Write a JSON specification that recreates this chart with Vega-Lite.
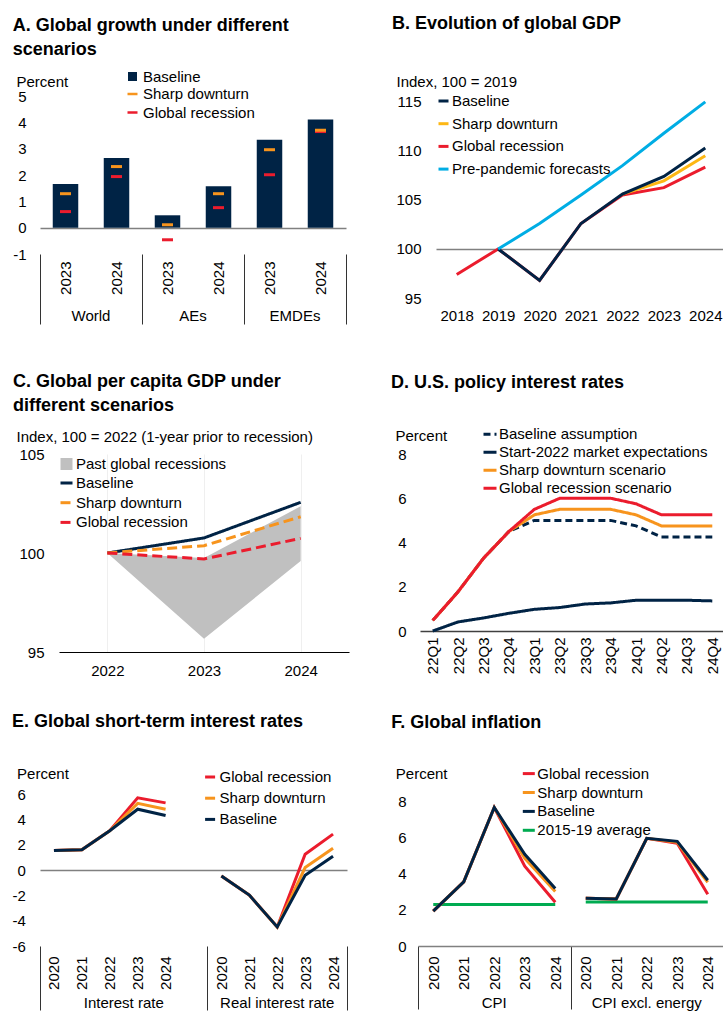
{
"$schema": "https://vega.github.io/schema/vega-lite/v6.json",
"padding": {"left": 11, "top": 15, "right": 0, "bottom": 0},
"background": "white",
"config": {
 "font": "Liberation Sans",
 "view": {"stroke": null},
 "axis": {"labelFont": "Liberation Sans", "labelFontSize": 15, "labelColor": "#000", "titleFont": "Liberation Sans", "titleFontSize": 15, "titleFontWeight": "normal", "titleColor": "#000", "grid": false, "ticks": false, "domain": false, "labelOverlap": false},
 "legend": {"labelFont": "Liberation Sans", "labelFontSize": 15, "labelColor": "#000", "padding": 0, "labelLimit": 400},
 "title": {"anchor": "start", "frame": "bounds", "font": "Liberation Sans", "fontSize": 18, "fontWeight": "bold", "lineHeight": 24, "color": "#000"},
 "text": {"font": "Liberation Sans", "fontSize": 15, "color": "#000"}
},
"datasets": {
 "A": [
  {"k": "W2023", "base": 1.66, "sharp": 1.29, "rec": 0.61},
  {"k": "W2024", "base": 2.65, "sharp": 2.32, "rec": 1.94},
  {"k": "A2023", "base": 0.47, "sharp": 0.11, "rec": -0.46},
  {"k": "A2024", "base": 1.57, "sharp": 1.29, "rec": 0.76},
  {"k": "E2023", "base": 3.34, "sharp": 2.96, "rec": 2.01},
  {"k": "E2024", "base": 4.11, "sharp": 3.70, "rec": 3.65}
 ],
 "Agroups": [{"k": "W2023", "g": "World"}, {"k": "A2023", "g": "AEs"}, {"k": "E2023", "g": "EMDEs"}],
 "B": [
  {"yr": "2018", "s": "Global recession", "v": 97.4},
  {"yr": "2019", "s": "Global recession", "v": 100},
  {"yr": "2020", "s": "Global recession", "v": 96.8},
  {"yr": "2021", "s": "Global recession", "v": 102.6},
  {"yr": "2022", "s": "Global recession", "v": 105.5},
  {"yr": "2023", "s": "Global recession", "v": 106.25},
  {"yr": "2024", "s": "Global recession", "v": 108.35},
  {"yr": "2022", "s": "Sharp downturn", "v": 105.6},
  {"yr": "2023", "s": "Sharp downturn", "v": 106.95},
  {"yr": "2024", "s": "Sharp downturn", "v": 109.5},
  {"yr": "2019", "s": "Baseline", "v": 100},
  {"yr": "2020", "s": "Baseline", "v": 96.8},
  {"yr": "2021", "s": "Baseline", "v": 102.6},
  {"yr": "2022", "s": "Baseline", "v": 105.6},
  {"yr": "2023", "s": "Baseline", "v": 107.4},
  {"yr": "2024", "s": "Baseline", "v": 110.3},
  {"yr": "2019", "s": "Pre-pandemic forecasts", "v": 100},
  {"yr": "2020", "s": "Pre-pandemic forecasts", "v": 102.6},
  {"yr": "2021", "s": "Pre-pandemic forecasts", "v": 105.5},
  {"yr": "2022", "s": "Pre-pandemic forecasts", "v": 108.5},
  {"yr": "2023", "s": "Pre-pandemic forecasts", "v": 111.8},
  {"yr": "2024", "s": "Pre-pandemic forecasts", "v": 115.0}
 ],
 "Carea": [
  {"yr": "2022", "lo": 100, "hi": 100, "s": "Past global recessions"},
  {"yr": "2023", "lo": 95.67, "hi": 99.75, "s": "Past global recessions"},
  {"yr": "2024", "lo": 99.6, "hi": 102.36, "s": "Past global recessions"}
 ],
 "C": [
  {"yr": "2022", "s": "Baseline", "v": 100},
  {"yr": "2023", "s": "Baseline", "v": 100.76},
  {"yr": "2024", "s": "Baseline", "v": 102.56},
  {"yr": "2022", "s": "Sharp downturn", "v": 100},
  {"yr": "2023", "s": "Sharp downturn", "v": 100.37},
  {"yr": "2024", "s": "Sharp downturn", "v": 101.83},
  {"yr": "2022", "s": "Global recession", "v": 100},
  {"yr": "2023", "s": "Global recession", "v": 99.7},
  {"yr": "2024", "s": "Global recession", "v": 100.74}
 ],
 "D": [
  {"q": "22Q1", "s": "Global recession scenario", "v": 0.48},
  {"q": "22Q2", "s": "Global recession scenario", "v": 1.78},
  {"q": "22Q3", "s": "Global recession scenario", "v": 3.29},
  {"q": "22Q4", "s": "Global recession scenario", "v": 4.5},
  {"q": "23Q1", "s": "Global recession scenario", "v": 5.5},
  {"q": "23Q2", "s": "Global recession scenario", "v": 6.0},
  {"q": "23Q3", "s": "Global recession scenario", "v": 6.0},
  {"q": "23Q4", "s": "Global recession scenario", "v": 6.0},
  {"q": "24Q1", "s": "Global recession scenario", "v": 5.75},
  {"q": "24Q2", "s": "Global recession scenario", "v": 5.25},
  {"q": "24Q3", "s": "Global recession scenario", "v": 5.25},
  {"q": "24Q4", "s": "Global recession scenario", "v": 5.25},
  {"q": "22Q1", "s": "Sharp downturn scenario", "v": 0.48},
  {"q": "22Q2", "s": "Sharp downturn scenario", "v": 1.78},
  {"q": "22Q3", "s": "Sharp downturn scenario", "v": 3.29},
  {"q": "22Q4", "s": "Sharp downturn scenario", "v": 4.5},
  {"q": "23Q1", "s": "Sharp downturn scenario", "v": 5.25},
  {"q": "23Q2", "s": "Sharp downturn scenario", "v": 5.5},
  {"q": "23Q3", "s": "Sharp downturn scenario", "v": 5.5},
  {"q": "23Q4", "s": "Sharp downturn scenario", "v": 5.5},
  {"q": "24Q1", "s": "Sharp downturn scenario", "v": 5.25},
  {"q": "24Q2", "s": "Sharp downturn scenario", "v": 4.75},
  {"q": "24Q3", "s": "Sharp downturn scenario", "v": 4.75},
  {"q": "24Q4", "s": "Sharp downturn scenario", "v": 4.75},
  {"q": "22Q1", "s": "Baseline assumption", "v": 0.48},
  {"q": "22Q2", "s": "Baseline assumption", "v": 1.78},
  {"q": "22Q3", "s": "Baseline assumption", "v": 3.29},
  {"q": "22Q4", "s": "Baseline assumption", "v": 4.5},
  {"q": "23Q1", "s": "Baseline assumption", "v": 5.0},
  {"q": "23Q2", "s": "Baseline assumption", "v": 5.0},
  {"q": "23Q3", "s": "Baseline assumption", "v": 5.0},
  {"q": "23Q4", "s": "Baseline assumption", "v": 5.0},
  {"q": "24Q1", "s": "Baseline assumption", "v": 4.75},
  {"q": "24Q2", "s": "Baseline assumption", "v": 4.25},
  {"q": "24Q3", "s": "Baseline assumption", "v": 4.25},
  {"q": "24Q4", "s": "Baseline assumption", "v": 4.25},
  {"q": "22Q1", "s": "Start-2022 market expectations", "v": 0.0},
  {"q": "22Q2", "s": "Start-2022 market expectations", "v": 0.41},
  {"q": "22Q3", "s": "Start-2022 market expectations", "v": 0.59},
  {"q": "22Q4", "s": "Start-2022 market expectations", "v": 0.8},
  {"q": "23Q1", "s": "Start-2022 market expectations", "v": 0.98},
  {"q": "23Q2", "s": "Start-2022 market expectations", "v": 1.06},
  {"q": "23Q3", "s": "Start-2022 market expectations", "v": 1.22},
  {"q": "23Q4", "s": "Start-2022 market expectations", "v": 1.27},
  {"q": "24Q1", "s": "Start-2022 market expectations", "v": 1.39},
  {"q": "24Q2", "s": "Start-2022 market expectations", "v": 1.39},
  {"q": "24Q3", "s": "Start-2022 market expectations", "v": 1.39},
  {"q": "24Q4", "s": "Start-2022 market expectations", "v": 1.36}
 ],
 "E": [
  {"k": "I2020", "g": "I", "s": "Global recession", "v": 1.53},
  {"k": "I2021", "g": "I", "s": "Global recession", "v": 1.59},
  {"k": "I2022", "g": "I", "s": "Global recession", "v": 3.1},
  {"k": "I2023", "g": "I", "s": "Global recession", "v": 5.7},
  {"k": "I2024", "g": "I", "s": "Global recession", "v": 5.3},
  {"k": "R2020", "g": "R", "s": "Global recession", "v": -0.48},
  {"k": "R2021", "g": "R", "s": "Global recession", "v": -1.98},
  {"k": "R2022", "g": "R", "s": "Global recession", "v": -4.5},
  {"k": "R2023", "g": "R", "s": "Global recession", "v": 1.24},
  {"k": "R2024", "g": "R", "s": "Global recession", "v": 2.83},
  {"k": "I2020", "g": "I", "s": "Sharp downturn", "v": 1.53},
  {"k": "I2021", "g": "I", "s": "Sharp downturn", "v": 1.59},
  {"k": "I2022", "g": "I", "s": "Sharp downturn", "v": 3.1},
  {"k": "I2023", "g": "I", "s": "Sharp downturn", "v": 5.26},
  {"k": "I2024", "g": "I", "s": "Sharp downturn", "v": 4.8},
  {"k": "R2020", "g": "R", "s": "Sharp downturn", "v": -0.48},
  {"k": "R2021", "g": "R", "s": "Sharp downturn", "v": -1.98},
  {"k": "R2022", "g": "R", "s": "Sharp downturn", "v": -4.5},
  {"k": "R2023", "g": "R", "s": "Sharp downturn", "v": 0.19},
  {"k": "R2024", "g": "R", "s": "Sharp downturn", "v": 1.72},
  {"k": "I2020", "g": "I", "s": "Baseline", "v": 1.53},
  {"k": "I2021", "g": "I", "s": "Baseline", "v": 1.59},
  {"k": "I2022", "g": "I", "s": "Baseline", "v": 3.1},
  {"k": "I2023", "g": "I", "s": "Baseline", "v": 4.8},
  {"k": "I2024", "g": "I", "s": "Baseline", "v": 4.3},
  {"k": "R2020", "g": "R", "s": "Baseline", "v": -0.48},
  {"k": "R2021", "g": "R", "s": "Baseline", "v": -1.98},
  {"k": "R2022", "g": "R", "s": "Baseline", "v": -4.5},
  {"k": "R2023", "g": "R", "s": "Baseline", "v": -0.42},
  {"k": "R2024", "g": "R", "s": "Baseline", "v": 1.08}
 ],
 "Egroups1": [{"k": "I2022", "g": "Interest rate"}],
 "Egroups2": [{"k": "R2022", "g": "Real interest rate"}],
 "F": [
  {"k": "C2020", "g": "C", "s": "2015-19 average", "v": 2.31},
  {"k": "C2021", "g": "C", "s": "2015-19 average", "v": 2.31},
  {"k": "C2022", "g": "C", "s": "2015-19 average", "v": 2.31},
  {"k": "C2023", "g": "C", "s": "2015-19 average", "v": 2.31},
  {"k": "C2024", "g": "C", "s": "2015-19 average", "v": 2.31},
  {"k": "X2020", "g": "X", "s": "2015-19 average", "v": 2.44},
  {"k": "X2021", "g": "X", "s": "2015-19 average", "v": 2.44},
  {"k": "X2022", "g": "X", "s": "2015-19 average", "v": 2.44},
  {"k": "X2023", "g": "X", "s": "2015-19 average", "v": 2.44},
  {"k": "X2024", "g": "X", "s": "2015-19 average", "v": 2.44},
  {"k": "C2020", "g": "C", "s": "Global recession", "v": 1.94},
  {"k": "C2021", "g": "C", "s": "Global recession", "v": 3.56},
  {"k": "C2022", "g": "C", "s": "Global recession", "v": 7.69},
  {"k": "C2023", "g": "C", "s": "Global recession", "v": 4.43},
  {"k": "C2024", "g": "C", "s": "Global recession", "v": 2.43},
  {"k": "X2020", "g": "X", "s": "Global recession", "v": 2.65},
  {"k": "X2021", "g": "X", "s": "Global recession", "v": 2.61},
  {"k": "X2022", "g": "X", "s": "Global recession", "v": 5.98},
  {"k": "X2023", "g": "X", "s": "Global recession", "v": 5.7},
  {"k": "X2024", "g": "X", "s": "Global recession", "v": 2.87},
  {"k": "C2020", "g": "C", "s": "Sharp downturn", "v": 1.94},
  {"k": "C2021", "g": "C", "s": "Sharp downturn", "v": 3.56},
  {"k": "C2022", "g": "C", "s": "Sharp downturn", "v": 7.69},
  {"k": "C2023", "g": "C", "s": "Sharp downturn", "v": 4.87},
  {"k": "C2024", "g": "C", "s": "Sharp downturn", "v": 3.02},
  {"k": "X2020", "g": "X", "s": "Sharp downturn", "v": 2.65},
  {"k": "X2021", "g": "X", "s": "Sharp downturn", "v": 2.61},
  {"k": "X2022", "g": "X", "s": "Sharp downturn", "v": 5.98},
  {"k": "X2023", "g": "X", "s": "Sharp downturn", "v": 5.76},
  {"k": "X2024", "g": "X", "s": "Sharp downturn", "v": 3.54},
  {"k": "C2020", "g": "C", "s": "Baseline", "v": 1.94},
  {"k": "C2021", "g": "C", "s": "Baseline", "v": 3.56},
  {"k": "C2022", "g": "C", "s": "Baseline", "v": 7.69},
  {"k": "C2023", "g": "C", "s": "Baseline", "v": 5.09},
  {"k": "C2024", "g": "C", "s": "Baseline", "v": 3.19},
  {"k": "X2020", "g": "X", "s": "Baseline", "v": 2.65},
  {"k": "X2021", "g": "X", "s": "Baseline", "v": 2.61},
  {"k": "X2022", "g": "X", "s": "Baseline", "v": 5.98},
  {"k": "X2023", "g": "X", "s": "Baseline", "v": 5.81},
  {"k": "X2024", "g": "X", "s": "Baseline", "v": 3.65}
 ],
 "Fgroups": [{"k": "C2022", "g": "CPI"}, {"k": "X2022", "g": "CPI excl. energy"}]
},
"vconcat": [
{"concat": [
 {
  "title": {"text": ["A. Global growth under different", "scenarios"], "offset": 10},
  "width": 306, "height": 158,
  "data": {"name": "A"},
  "layer": [
   {"mark": {"type": "bar", "width": {"band": 0.5}, "color": "#002345"},
    "encoding": {
     "x": {"field": "k", "type": "nominal", "sort": null, "scale": {"domain": ["W2023","W2024","A2023","A2024","E2023","E2024"], "paddingInner": 0, "paddingOuter": 0},
           "axis": {"title": null, "labelExpr": "datum.value ? substring(datum.value, 1) : ''", "labelAngle": 270, "labelAlign": "right", "labelBaseline": "middle", "labelOverlap": false, "ticks": true, "tickBand": "extent", "tickSize": 70, "tickColor": "#333333", "tickWidth": 1, "tickOpacity": {"condition": {"test": "datum.extra || datum.value === 'W2024' || datum.value === 'A2024' || datum.value === 'E2024'", "value": 1}, "value": 0}, "labelPadding": -63}},
     "y": {"field": "base", "type": "quantitative", "scale": {"domain": [-1, 5], "nice": false, "zero": false},
           "axis": {"values": [-1,0,1,2,3,4,5], "labelOverlap": false, "title": "Percent", "titleAngle": 0, "titleAlign": "left", "titleBaseline": "middle", "titleX": -24, "titleY": -15, "labelPadding": 14, "labelExpr": "datum.value < 0 ? '-' + (-datum.value) : datum.label", "grid": true, "gridColor": "#808080", "gridWidth": 1.5, "gridOpacity": {"condition": {"test": "datum.value === 0", "value": 1}, "value": 0}}},
     "fill": {"datum": "Baseline", "type": "nominal", "scale": {"domain": ["Baseline"], "range": ["#002345"]}, "legend": {"title": null, "orient": "none", "legendX": 85, "legendY": -27, "symbolType": "square", "symbolSize": 81, "labelOffset": 3}}
    }},
   {"mark": {"type": "tick", "thickness": 3, "size": 11, "opacity": 1},
    "encoding": {
     "x": {"field": "k", "type": "nominal", "sort": null},
     "y": {"field": "rec", "type": "quantitative", "axis": {"values": [-1,0,1,2,3,4,5], "labelOverlap": false, "title": "Percent", "titleAngle": 0, "titleAlign": "left", "titleBaseline": "middle", "titleX": -24, "titleY": -15, "labelPadding": 14, "labelExpr": "datum.value < 0 ? '-' + (-datum.value) : datum.label", "grid": true, "gridColor": "#808080", "gridWidth": 1.5, "gridOpacity": {"condition": {"test": "datum.value === 0", "value": 1}, "value": 0}}},
     "color": {"datum": "Global recession", "type": "nominal", "scale": {"domain": ["Sharp downturn", "Global recession"], "range": ["#F7941D", "#EB1C2D"]}, "legend": {"title": null, "orient": "none", "legendX": 85, "legendY": -9.5, "symbolType": "M-1,-0.25H1V0.25H-1Z", "symbolSize": 100, "symbolOpacity": 1, "rowPadding": 2.5, "labelOffset": 3}}
    }},
   {"mark": {"type": "tick", "thickness": 3, "size": 11, "opacity": 1},
    "encoding": {
     "x": {"field": "k", "type": "nominal", "sort": null},
     "y": {"field": "sharp", "type": "quantitative", "axis": {"values": [-1,0,1,2,3,4,5], "labelOverlap": false, "title": "Percent", "titleAngle": 0, "titleAlign": "left", "titleBaseline": "middle", "titleX": -24, "titleY": -15, "labelPadding": 14, "labelExpr": "datum.value < 0 ? '-' + (-datum.value) : datum.label", "grid": true, "gridColor": "#808080", "gridWidth": 1.5, "gridOpacity": {"condition": {"test": "datum.value === 0", "value": 1}, "value": 0}}},
     "color": {"datum": "Sharp downturn", "type": "nominal"}
    }},
   {"data": {"name": "Agroups"}, "mark": {"type": "text", "dy": 62, "baseline": "middle", "align": "center", "fontSize": 15},
    "encoding": {
     "x": {"field": "k", "type": "nominal", "sort": null, "bandPosition": 1},
     "y": {"datum": -1, "type": "quantitative", "axis": {"values": [-1,0,1,2,3,4,5], "labelOverlap": false, "title": "Percent", "titleAngle": 0, "titleAlign": "left", "titleBaseline": "middle", "titleX": -24, "titleY": -15, "labelPadding": 14, "labelExpr": "datum.value < 0 ? '-' + (-datum.value) : datum.label", "grid": true, "gridColor": "#808080", "gridWidth": 1.5, "gridOpacity": {"condition": {"test": "datum.value === 0", "value": 1}, "value": 0}}},
     "text": {"field": "g"}
    }}
  ]
 },
 {
  "title": {"text": "B. Evolution of global GDP", "offset": 41, "dx": -4},
  "width": 290, "height": 202,
  "data": {"name": "B"},
  "encoding": {
   "x": {"field": "yr", "type": "ordinal", "scale": {"type": "point", "padding": 0.5, "domain": ["2018","2019","2020","2021","2022","2023","2024"]}, "axis": {"title": null, "labelAngle": 0, "labelPadding": 10, "labelOverlap": false}},
   "y": {"field": "v", "type": "quantitative", "scale": {"domain": [95, 115.6], "nice": false, "zero": false},
         "axis": {"values": [95,100,105,110,115], "labelOverlap": false, "title": "Index, 100 = 2019", "titleAngle": 0, "titleAlign": "left", "titleBaseline": "middle", "titleX": -40, "titleY": -15, "labelPadding": 15, "grid": true, "gridColor": "#808080", "gridWidth": 1.5, "gridOpacity": {"condition": {"test": "datum.value === 100", "value": 1}, "value": 0}}},
   "color": {"field": "s", "type": "nominal", "scale": {"domain": ["Baseline", "Sharp downturn", "Global recession", "Pre-pandemic forecasts"], "range": ["#002345", "#FDB714", "#EB1C2D", "#00ADE4"]},
             "legend": {"title": null, "orient": "none", "legendX": 0, "legendY": -2.5, "symbolType": "stroke", "symbolSize": 100, "symbolStrokeWidth": 3, "rowPadding": 6.7, "labelOffset": 1}}
  },
  "layer": [
   {"transform": [{"filter": "datum.s === 'Global recession'"}], "mark": {"type": "line", "strokeWidth": 3}},
   {"transform": [{"filter": "datum.s === 'Sharp downturn'"}], "mark": {"type": "line", "strokeWidth": 3}},
   {"transform": [{"filter": "datum.s === 'Baseline'"}], "mark": {"type": "line", "strokeWidth": 3}},
   {"transform": [{"filter": "datum.s === 'Pre-pandemic forecasts'"}], "mark": {"type": "line", "strokeWidth": 3}}
  ]
 },
 {
  "title": {"text": ["C. Global per capita GDP under", "different scenarios"], "offset": 14, "dx": -3},
  "width": 309, "height": 198,
  "layer": [
   {"data": {"name": "Carea"}, "mark": {"type": "area", "opacity": 1},
    "encoding": {
     "x": {"field": "yr", "type": "ordinal", "scale": {"type": "point", "padding": 0.5, "domain": ["2022","2023","2024"], "range": [19, 309]}, "axis": {"title": null, "labelAngle": 0, "labelPadding": 11, "domain": true, "domainColor": "#000", "domainWidth": 1, "grid": true, "gridColor": "#efefef", "gridWidth": 1}},
     "y": {"field": "lo", "type": "quantitative", "scale": {"domain": [95, 105], "nice": false, "zero": false},
           "axis": {"values": [95,100,105], "offset": -19, "labelOverlap": false, "title": "Index, 100 = 2022 (1-year prior to recession)", "titleAngle": 0, "titleAlign": "left", "titleBaseline": "middle", "titleX": -43, "titleY": -18, "labelPadding": 15}},
     "y2": {"field": "hi"},
     "fill": {"field": "s", "type": "nominal", "scale": {"domain": ["Past global recessions"], "range": ["#C0C0C0"]}, "legend": {"title": null, "orient": "none", "legendX": 19, "legendY": 2.5, "symbolType": "square", "symbolSize": 144, "symbolStrokeWidth": 0, "labelOffset": 2}}
    }},
   {"data": {"name": "C"},
    "encoding": {
     "x": {"field": "yr", "type": "ordinal"},
     "y": {"field": "v", "type": "quantitative"},
     "color": {"field": "s", "type": "nominal", "scale": {"domain": ["Baseline", "Sharp downturn", "Global recession"], "range": ["#002345", "#F7941D", "#EB1C2D"]},
               "legend": {"title": null, "orient": "none", "legendX": 19, "legendY": 21.5, "symbolType": "stroke", "symbolSize": 144, "symbolStrokeWidth": 3, "rowPadding": 3.7, "labelOffset": 2}},
     "strokeDash": {"field": "s", "type": "nominal", "scale": {"domain": ["Baseline", "Sharp downturn", "Global recession"], "range": [[1, 0], [10, 5], [10, 5]]},
               "legend": {"title": null, "orient": "none", "legendX": 19, "legendY": 21.5, "symbolType": "stroke", "symbolSize": 144, "symbolStrokeWidth": 3, "rowPadding": 3.7, "labelOffset": 2}}
    },
    "layer": [
     {"transform": [{"filter": "datum.s === 'Baseline'"}], "mark": {"type": "line", "strokeWidth": 3}},
     {"transform": [{"filter": "datum.s === 'Sharp downturn'"}], "mark": {"type": "line", "strokeWidth": 3}},
     {"transform": [{"filter": "datum.s === 'Global recession'"}], "mark": {"type": "line", "strokeWidth": 3}}
    ]}
  ]
 },
 {
  "title": {"text": "D. U.S. policy interest rates", "offset": 34, "dx": -4},
  "width": 305, "height": 177,
  "data": {"name": "D"},
  "encoding": {
   "x": {"field": "q", "type": "ordinal", "scale": {"type": "point", "padding": 0.5}, "axis": {"title": null, "labelAngle": 270, "labelAlign": "right", "labelBaseline": "middle", "labelPadding": 6, "labelOverlap": false, "domain": true, "domainColor": "#404040", "domainWidth": 1.5}},
   "y": {"field": "v", "type": "quantitative", "scale": {"domain": [0, 8], "nice": false},
         "axis": {"values": [0,2,4,6,8], "labelOverlap": false, "title": "Percent", "titleAngle": 0, "titleAlign": "left", "titleBaseline": "middle", "titleX": -25, "titleY": -19, "labelPadding": 14}},
   "color": {"field": "s", "type": "nominal", "scale": {"domain": ["Baseline assumption", "Start-2022 market expectations", "Sharp downturn scenario", "Global recession scenario"], "range": ["#002345", "#002345", "#F7941D", "#EB1C2D"]},
             "legend": {"title": null, "orient": "none", "legendX": 62, "legendY": -27.8, "symbolType": "stroke", "symbolSize": 169, "symbolStrokeWidth": 3, "rowPadding": 2, "labelOffset": 1}},
   "strokeDash": {"field": "s", "type": "nominal", "scale": {"domain": ["Baseline assumption", "Start-2022 market expectations", "Sharp downturn scenario", "Global recession scenario"], "range": [[7, 4], [1, 0], [1, 0], [1, 0]]},
             "legend": {"title": null, "orient": "none", "legendX": 62, "legendY": -27.8, "symbolType": "stroke", "symbolSize": 169, "symbolStrokeWidth": 3, "rowPadding": 2, "labelOffset": 1}}
  },
  "layer": [
   {"transform": [{"filter": "datum.s === 'Start-2022 market expectations'"}], "mark": {"type": "line", "strokeWidth": 3}},
   {"transform": [{"filter": "datum.s === 'Baseline assumption'"}], "mark": {"type": "line", "strokeWidth": 3}},
   {"transform": [{"filter": "datum.s === 'Sharp downturn scenario'"}], "mark": {"type": "line", "strokeWidth": 3}},
   {"transform": [{"filter": "datum.s === 'Global recession scenario'"}], "mark": {"type": "line", "strokeWidth": 3}}
  ]
 }
],
"columns": 2,
"align": {"row": "each", "column": "none"},
"spacing": {"row": 48, "column": 42},
"resolve": {"scale": {"color": "independent", "fill": "independent", "strokeDash": "independent"}, "legend": {"color": "independent", "fill": "independent", "strokeDash": "independent"}}
},
{"hconcat": [
 {
  "title": {"text": "E. Global short-term interest rates", "offset": 36},
  "width": 307, "height": 152,
  "layer": [
   {"data": {"name": "E"},
    "encoding": {
     "x": {"field": "k", "type": "nominal", "sort": null, "scale": {"domain": ["I2020","I2021","I2022","I2023","I2024","gap","R2020","R2021","R2022","R2023","R2024"], "paddingInner": 0, "paddingOuter": 0},
           "axis": {"title": null, "labelExpr": "(!datum.value || datum.value === 'gap') ? '' : substring(datum.value, 1)", "labelAngle": 270, "labelAlign": "right", "labelBaseline": "middle", "labelOverlap": false, "ticks": true, "tickBand": "extent", "tickSize": 64, "tickColor": "#333333", "tickWidth": 1, "tickOpacity": {"condition": {"test": "datum.extra || datum.value === 'gap' || datum.value === 'R2024'", "value": 1}, "value": 0}, "labelPadding": -54}},
     "y": {"field": "v", "type": "quantitative", "scale": {"domain": [-6, 6], "nice": false},
           "axis": {"values": [-6,-4,-2,0,2,4,6], "labelOverlap": false, "title": "Percent", "titleAngle": 0, "titleAlign": "left", "titleBaseline": "middle", "titleX": -23.4, "titleY": -20.4, "labelPadding": 14.7, "labelExpr": "datum.value < 0 ? '-' + (-datum.value) : datum.label", "grid": true, "gridColor": "#808080", "gridWidth": 1.5, "gridOpacity": {"condition": {"test": "datum.value === 0", "value": 1}, "value": 0}}},
     "detail": {"field": "g"},
     "color": {"field": "s", "type": "nominal", "scale": {"domain": ["Global recession", "Sharp downturn", "Baseline"], "range": ["#EB1C2D", "#F7941D", "#002345"]},
               "legend": {"title": null, "orient": "none", "legendX": 162.6, "legendY": -24.5, "symbolType": "stroke", "symbolSize": 100, "symbolStrokeWidth": 3, "rowPadding": 5.2, "labelOffset": 2}}
    },
    "layer": [
     {"transform": [{"filter": "datum.s === 'Global recession'"}], "mark": {"type": "line", "strokeWidth": 3}},
     {"transform": [{"filter": "datum.s === 'Sharp downturn'"}], "mark": {"type": "line", "strokeWidth": 3}},
     {"transform": [{"filter": "datum.s === 'Baseline'"}], "mark": {"type": "line", "strokeWidth": 3}}
    ]},
   {"data": {"name": "Egroups1"}, "mark": {"type": "text", "dy": 57, "baseline": "middle", "align": "center", "fontSize": 15},
    "encoding": {"x": {"field": "k", "type": "nominal", "sort": null, "bandPosition": 1},
                 "y": {"datum": -6, "type": "quantitative", "axis": {"values": [-6,-4,-2,0,2,4,6], "labelOverlap": false, "title": "Percent", "titleAngle": 0, "titleAlign": "left", "titleBaseline": "middle", "titleX": -23.4, "titleY": -20.4, "labelPadding": 14.7, "labelExpr": "datum.value < 0 ? '-' + (-datum.value) : datum.label", "grid": true, "gridColor": "#808080", "gridWidth": 1.5, "gridOpacity": {"condition": {"test": "datum.value === 0", "value": 1}, "value": 0}}},
                 "text": {"field": "g"}}},
   {"data": {"name": "Egroups2"}, "mark": {"type": "text", "dy": 57, "baseline": "middle", "align": "center", "fontSize": 15},
    "encoding": {"x": {"field": "k", "type": "nominal", "sort": null, "bandPosition": 0.5},
                 "y": {"datum": -6, "type": "quantitative", "axis": {"values": [-6,-4,-2,0,2,4,6], "labelOverlap": false, "title": "Percent", "titleAngle": 0, "titleAlign": "left", "titleBaseline": "middle", "titleX": -23.4, "titleY": -20.4, "labelPadding": 14.7, "labelExpr": "datum.value < 0 ? '-' + (-datum.value) : datum.label", "grid": true, "gridColor": "#808080", "gridWidth": 1.5, "gridOpacity": {"condition": {"test": "datum.value === 0", "value": 1}, "value": 0}}},
                 "text": {"field": "g"}}}
  ]
 },
 {
  "title": {"text": "F. Global inflation", "offset": 34, "dx": -4},
  "width": 305, "height": 152,
  "layer": [
   {"data": {"name": "F"},
    "encoding": {
     "x": {"field": "k", "type": "nominal", "sort": null, "scale": {"domain": ["C2020","C2021","C2022","C2023","C2024","X2020","X2021","X2022","X2023","X2024"], "paddingInner": 0, "paddingOuter": 0},
           "axis": {"title": null, "labelExpr": "datum.value ? substring(datum.value, 1) : ''", "labelAngle": 270, "labelAlign": "right", "labelBaseline": "middle", "labelOverlap": false, "domain": true, "domainColor": "#808080", "domainWidth": 1.5, "ticks": true, "tickBand": "extent", "tickSize": 63, "tickColor": "#333333", "tickWidth": 1, "tickOpacity": {"condition": {"test": "datum.extra || datum.value === 'C2024' || datum.value === 'X2024'", "value": 1}, "value": 0}, "labelPadding": -53}},
     "y": {"field": "v", "type": "quantitative", "scale": {"domain": [0, 8.44], "nice": false},
           "axis": {"values": [0,2,4,6,8], "labelOverlap": false, "title": "Percent", "titleAngle": 0, "titleAlign": "left", "titleBaseline": "middle", "titleX": -22.7, "titleY": -20.4, "labelPadding": 12}},
     "detail": {"field": "g"},
     "color": {"field": "s", "type": "nominal", "scale": {"domain": ["Global recession", "Sharp downturn", "Baseline", "2015-19 average"], "range": ["#EB1C2D", "#F7941D", "#002345", "#00AB51"]},
               "legend": {"title": null, "orient": "none", "legendX": 103.3, "legendY": -27.9, "symbolType": "stroke", "symbolSize": 144, "symbolStrokeWidth": 3, "rowPadding": 2.9, "labelOffset": 1}}
    },
    "layer": [
     {"transform": [{"filter": "datum.s === '2015-19 average'"}], "mark": {"type": "line", "strokeWidth": 3}},
     {"transform": [{"filter": "datum.s === 'Global recession'"}], "mark": {"type": "line", "strokeWidth": 3}},
     {"transform": [{"filter": "datum.s === 'Sharp downturn'"}], "mark": {"type": "line", "strokeWidth": 3}},
     {"transform": [{"filter": "datum.s === 'Baseline'"}], "mark": {"type": "line", "strokeWidth": 3}}
    ]},
   {"data": {"name": "Fgroups"}, "mark": {"type": "text", "dy": 57, "baseline": "middle", "align": "center", "fontSize": 15},
    "encoding": {"x": {"field": "k", "type": "nominal", "sort": null, "bandPosition": 0.5},
                 "y": {"datum": 0, "type": "quantitative", "axis": {"values": [0,2,4,6,8], "labelOverlap": false, "title": "Percent", "titleAngle": 0, "titleAlign": "left", "titleBaseline": "middle", "titleX": -22.7, "titleY": -20.4, "labelPadding": 12}},
                 "text": {"field": "g"}}}
  ]
 }
], "spacing": 43,
"resolve": {"scale": {"color": "independent", "fill": "independent", "strokeDash": "independent"}, "legend": {"color": "independent", "fill": "independent", "strokeDash": "independent"}}}
],
"spacing": 34,
"resolve": {"scale": {"color": "independent", "fill": "independent", "strokeDash": "independent"}, "legend": {"color": "independent", "fill": "independent", "strokeDash": "independent"}}
}
